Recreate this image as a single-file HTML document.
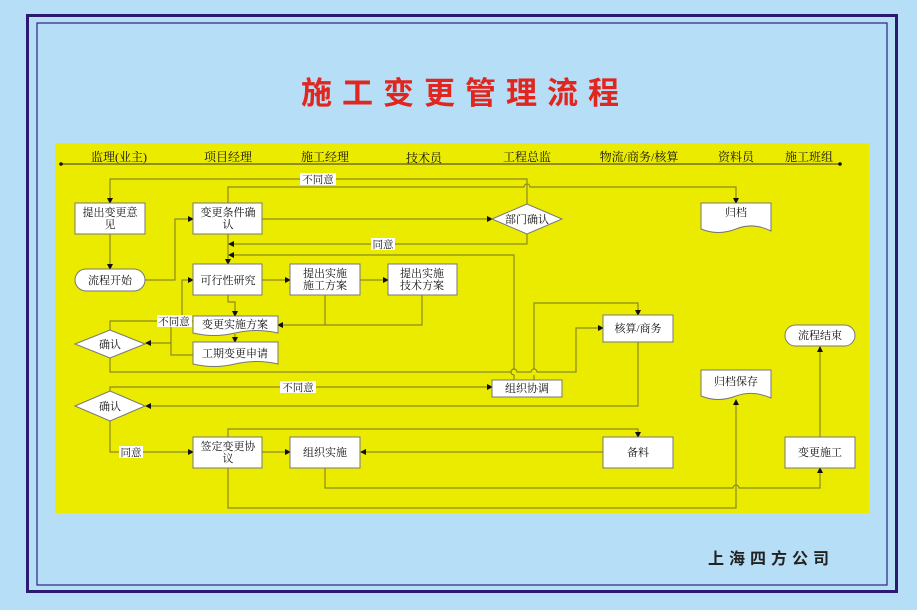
<!DOCTYPE html>
<html><head><meta charset="utf-8">
<style>
html,body{margin:0;padding:0;background:#b6def6;}
svg{display:block;}
text{font-family:"Liberation Serif","Noto Serif CJK SC","Noto Sans CJK SC",serif;}
</style></head>
<body>
<svg width="917" height="610" viewBox="0 0 917 610" xmlns="http://www.w3.org/2000/svg">
<defs>
<marker id="a" markerWidth="6" markerHeight="6" refX="5" refY="3" orient="auto" markerUnits="userSpaceOnUse">
<path d="M0,0 L6,3 L0,6 z" fill="#111"/>
</marker>
</defs>
<rect x="0" y="0" width="917" height="610" fill="#b6def6"/>
<rect x="27.5" y="15.5" width="869" height="576" fill="none" stroke="#2a1a72" stroke-width="3"/>
<rect x="37" y="23" width="850" height="562" fill="none" stroke="#2e2380" stroke-width="1.2"/>
<text x="465" y="104" text-anchor="middle" font-size="31" font-weight="bold" fill="#e0261e" letter-spacing="10" style="font-family:'Noto Sans CJK SC',sans-serif">施工变更管理流程</text>
<text x="771" y="564" text-anchor="middle" font-size="16" font-weight="bold" fill="#222" letter-spacing="5" style="font-family:'Noto Sans CJK SC',sans-serif">上海四方公司</text>
<rect x="55" y="143" width="814" height="370" fill="#ebeb00"/>
<g font-size="12" fill="#111" text-anchor="middle">
<text x="119" y="161">监理(业主)</text>
<text x="228" y="161">项目经理</text>
<text x="325" y="161">施工经理</text>
<text x="424" y="162">技术员</text>
<text x="527" y="161">工程总监</text>
<text x="639" y="161">物流/商务/核算</text>
<text x="736" y="161">资料员</text>
<text x="809" y="161">施工班组</text>
</g>
<line x1="61" y1="164" x2="840" y2="164" stroke="#333" stroke-width="1"/>
<circle cx="61" cy="164" r="1.8" fill="#111"/><circle cx="840" cy="164" r="1.8" fill="#111"/>
<g fill="none" stroke="#8a8a22" stroke-width="1.2">
<path d="M527,204 V179 H110 V203" marker-end="url(#a)"/>
<path d="M228,203 V187 H524 a3,3 0 0 1 6,0 H736 V203" marker-end="url(#a)"/>
<path d="M262,219 H492" marker-end="url(#a)"/>
<path d="M527,234 V244 H229" marker-end="url(#a)"/>
<path d="M514,380 V375 a3,3 0 0 1 0,-6 V255 H229" marker-end="url(#a)"/>
<path d="M228,234 V264" marker-end="url(#a)"/>
<path d="M110,234 V269" marker-end="url(#a)"/>
<path d="M145,280 H175 V219 H193" marker-end="url(#a)"/>
<path d="M262,280 H290" marker-end="url(#a)"/>
<path d="M360,280 H388" marker-end="url(#a)"/>
<path d="M228,295 V302 H235 V316" marker-end="url(#a)"/>
<path d="M325,295 V325 M422,295 V325 H278" marker-end="url(#a)"/>
<path d="M235,334 V342" marker-end="url(#a)"/>
<path d="M110,330 V321 H193"/>
<path d="M182,321 V280 H193" marker-end="url(#a)"/>
<path d="M193,355 H171 V327 M171,343 H146" marker-end="url(#a)"/>
<path d="M110,358 V372 H511 a3,3 0 0 1 6,0 H531 a3,3 0 0 1 6,0 H576 V328 H603" marker-end="url(#a)"/>
<path d="M534,380 V375 M534,369 V303 H638 V315" marker-end="url(#a)"/>
<path d="M110,391 V387 H492" marker-end="url(#a)"/>
<path d="M638,342 V406 H146" marker-end="url(#a)"/>
<path d="M110,421 V452 H193" marker-end="url(#a)"/>
<path d="M262,452 H290" marker-end="url(#a)"/>
<path d="M603,452 H361" marker-end="url(#a)"/>
<path d="M228,437 V429 H638 V437" marker-end="url(#a)"/>
<path d="M325,467 V488 H733 a3,3 0 0 1 6,0 H820 V468" marker-end="url(#a)"/>
<path d="M228,467 V508 H736 V400" marker-end="url(#a)"/>
<path d="M820,437 V347" marker-end="url(#a)"/>
</g>
<g fill="#fff" stroke="#777" stroke-width="1">
<rect x="75" y="203" width="70" height="31"/>
<rect x="193" y="203" width="69" height="31"/>
<polygon points="492,219 527,204 562,219 527,234"/>
<path d="M701,203 H771 V231 Q753,222 736,229 Q718,236 701,229 Z"/>
<rect x="75" y="269" width="70" height="22" rx="11"/>
<rect x="193" y="264" width="69" height="31"/>
<rect x="290" y="264" width="70" height="31"/>
<rect x="388" y="264" width="69" height="31"/>
<path d="M193,316 H278 V333 Q256,328 235,333 Q214,338 193,333 Z"/>
<path d="M193,342 H278 V364 Q256,359 235,364 Q214,369 193,364 Z"/>
<polygon points="75,344 110,330 145,344 110,358"/>
<rect x="603" y="315" width="70" height="27"/>
<rect x="785" y="325" width="70" height="21" rx="10.5"/>
<rect x="492" y="380" width="70" height="17"/>
<path d="M701,370 H771 V398 Q753,390 736,396 Q718,403 701,396 Z"/>
<polygon points="75,406 110,391 145,406 110,421"/>
<rect x="193" y="437" width="69" height="31"/>
<rect x="290" y="437" width="70" height="31"/>
<rect x="603" y="437" width="70" height="31"/>
<rect x="785" y="437" width="70" height="31"/>
</g>
<g font-size="11" fill="#111" text-anchor="middle">
<text x="110" y="216">提出变更意</text><text x="110" y="228">见</text>
<text x="228" y="216">变更条件确</text><text x="228" y="228">认</text>
<text x="527" y="223">部门确认</text>
<text x="736" y="216">归档</text>
<text x="110" y="284">流程开始</text>
<text x="228" y="284">可行性研究</text>
<text x="325" y="277">提出实施</text><text x="325" y="289">施工方案</text>
<text x="422" y="277">提出实施</text><text x="422" y="289">技术方案</text>
<text x="235" y="328">变更实施方案</text>
<text x="235" y="357">工期变更申请</text>
<text x="110" y="348">确认</text>
<text x="638" y="332">核算/商务</text>
<text x="820" y="339">流程结束</text>
<text x="527" y="392">组织协调</text>
<text x="736" y="385">归档保存</text>
<text x="110" y="410">确认</text>
<text x="228" y="450">签定变更协</text><text x="228" y="462">议</text>
<text x="325" y="456">组织实施</text>
<text x="638" y="456">备料</text>
<text x="820" y="456">变更施工</text>
</g>
<g font-size="10.5" fill="#111" text-anchor="middle">
<rect x="300" y="173" width="36" height="12" fill="#fff"/><text x="318" y="183">不同意</text>
<rect x="371" y="238" width="24" height="12" fill="#fff"/><text x="383" y="248">同意</text>
<rect x="157" y="315" width="35" height="12" fill="#fff"/><text x="174" y="325">不同意</text>
<rect x="280" y="381" width="36" height="12" fill="#fff"/><text x="298" y="391">不同意</text>
<rect x="119" y="446" width="24" height="12" fill="#fff"/><text x="131" y="456">同意</text>
</g>
</svg>
</body></html>
